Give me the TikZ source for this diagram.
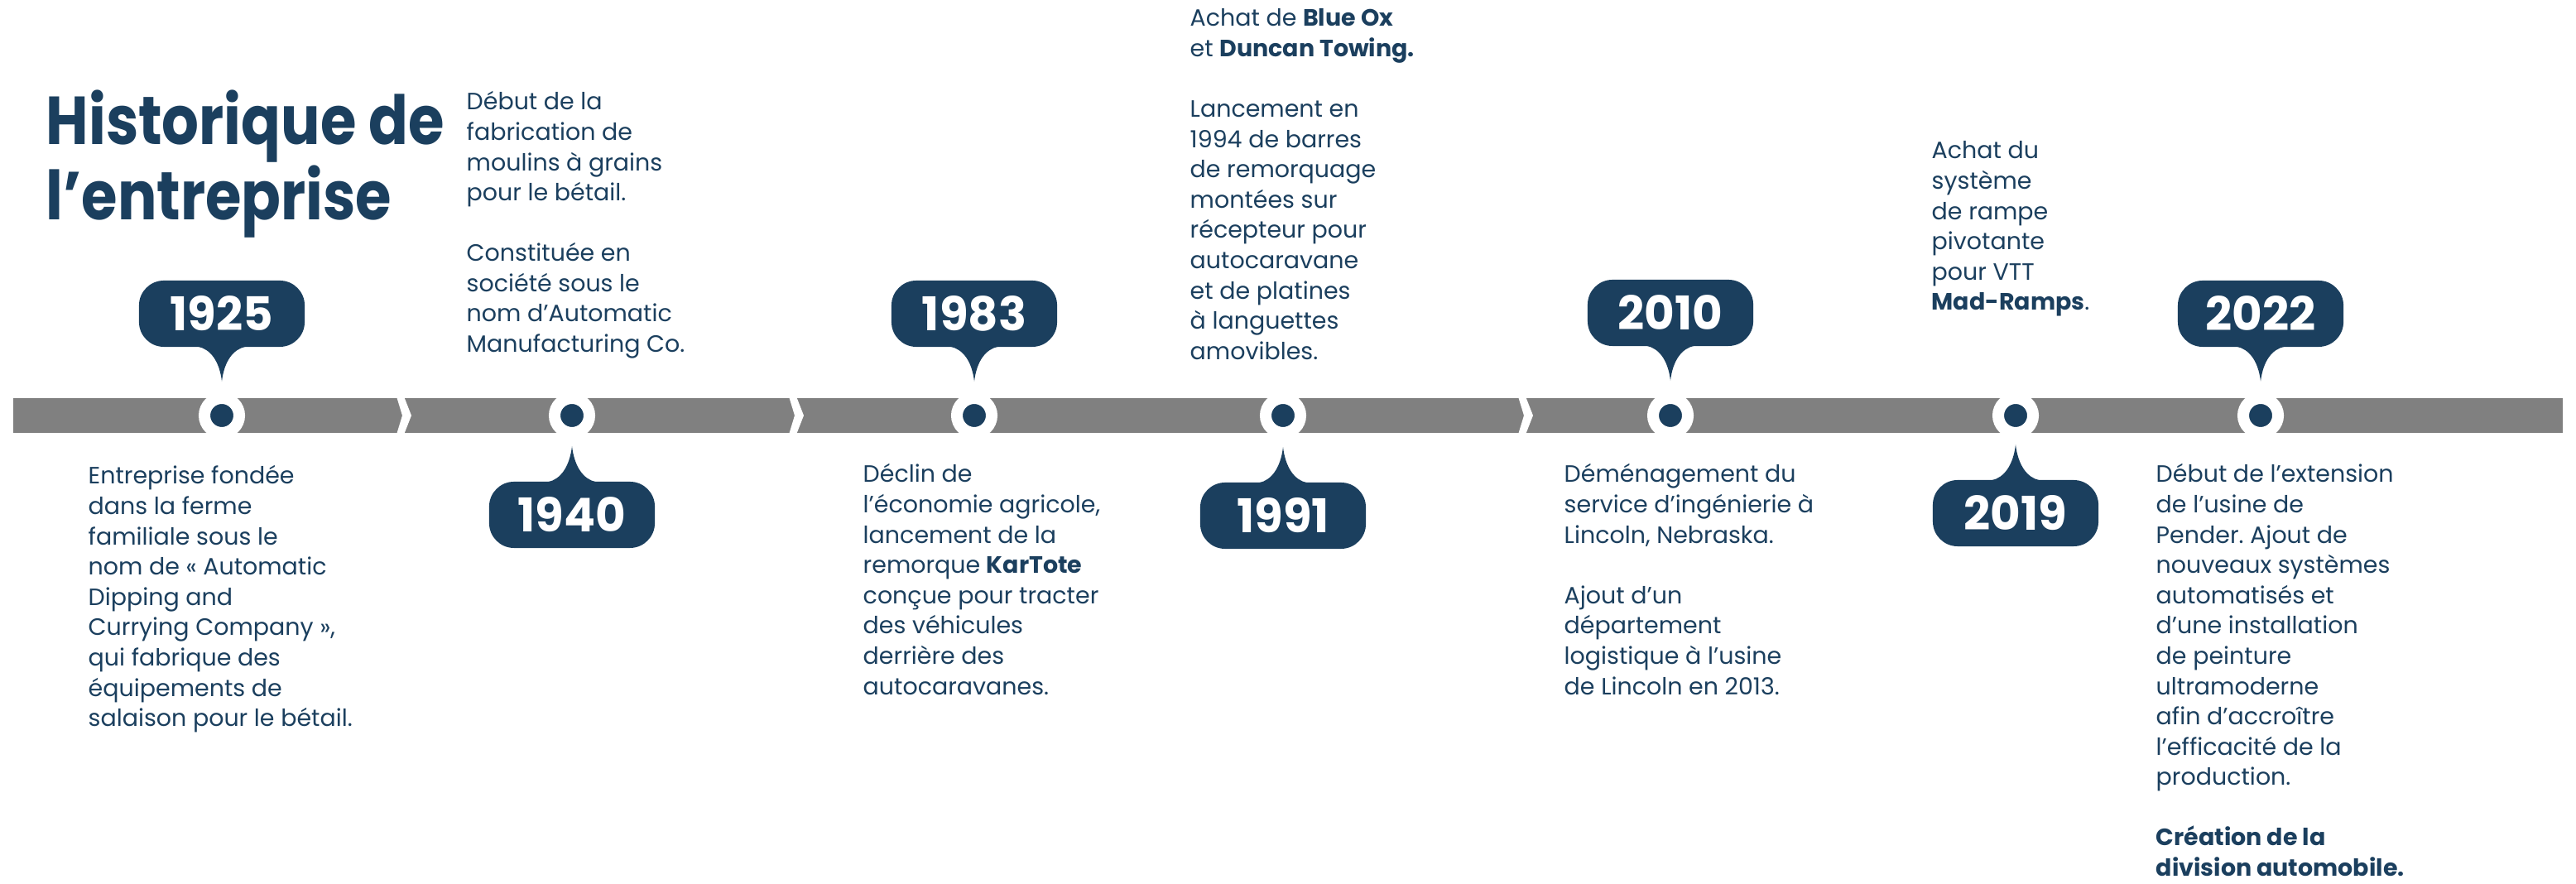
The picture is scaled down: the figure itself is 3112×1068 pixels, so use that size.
\documentclass[tikz,border=0pt]{standalone}
\usepackage{fontspec}
\setmainfont{Poppins}
\newfontfamily\titlefont{Poppins}[FakeStretch=0.86]
\usepackage{tikz}
\usepackage{xcolor}
\definecolor{navy}{HTML}{1B3F5E}
\definecolor{bargray}{HTML}{808080}
\frenchspacing
\tikzstyle{year} = [rectangle, rounded corners=0.3cm, minimum width=2cm, minimum height=0.8cm, inner sep=0pt, fill=navy, text=white, font=\fontsize{16pt}{16pt}\selectfont\bfseries]
\tikzstyle{body} = [anchor=base west, inner sep=0pt, text=navy, font=\fontsize{8.1pt}{10.4pt}\selectfont]
\tikzstyle{dot} = [circle, fill=navy, draw=white, line width=0.14cm, minimum size=0.42cm, inner sep=0pt]
\tikzstyle{title} = [anchor=base west, inner sep=0pt, text=navy, font=\fontsize{23.3pt}{24.2pt}\titlefont\bfseries]
% lines of a block, baseline on the first line
\newcommand{\block}[1]{\begin{tabular}[t]{@{}l@{}}#1\end{tabular}}
% tip under a bubble (points down) / over a bubble (points up)
\newcommand{\tipdown}[1]{\fill[navy] ([xshift=-0.29cm,yshift=0.01cm]#1.south) .. controls +(15,3) and +(-3,-25) .. ([yshift=-0.41cm]#1.south) .. controls +(3,-25) and +(-15,3) .. ([xshift=0.29cm,yshift=0.01cm]#1.south) -- cycle;}
\newcommand{\tipup}[1]{\fill[navy] ([xshift=-0.29cm,yshift=-0.01cm]#1.north) .. controls +(15,-3) and +(-3,25) .. ([yshift=0.42cm]#1.north) .. controls +(3,25) and +(-15,-3) .. ([xshift=0.29cm,yshift=-0.01cm]#1.north) -- cycle;}

\begin{document}
\begin{tikzpicture}[x=0.01cm,y=-0.01cm]
    \useasboundingbox[fill=white] (0,0) rectangle (3112,1068);

    \node[title] (title) at (55,175) {\block{Historique de\\[-0.2pt]l’entreprise}};

    % the bar and its chevrons
    \fill[bargray] (16,481) rectangle (3096,523);
    \fill[white] (479,479) -- (488,479) -- (497,502) -- (488,525) -- (479,525) -- (486,502) -- cycle;
    \fill[white] (953,479) -- (962,479) -- (971,502) -- (962,525) -- (953,525) -- (960,502) -- cycle;
    \fill[white] (1834,479) -- (1843,479) -- (1852,502) -- (1843,525) -- (1834,525) -- (1841,502) -- cycle;

    \node[dot] (d1925) at (268,502) {};
    \node[dot] (d1940) at (691,502) {};
    \node[dot] (d1983) at (1177,502) {};
    \node[dot] (d1991) at (1550,502) {};
    \node[dot] (d2010) at (2018,502) {};
    \node[dot] (d2019) at (2435,502) {};
    \node[dot] (d2022) at (2731,502) {};

    % years above the bar
    \node[year] (y1925) at (268,379) {1925};
    \node[year] (y1983) at (1177,379) {1983};
    \node[year] (y2010) at (2018,378) {2010};
    \node[year] (y2022) at (2731,379) {2022};
    \tipdown{y1925}
    \tipdown{y1983}
    \tipdown{y2010}
    \tipdown{y2022}

    % years below the bar
    \node[year] (y1940) at (691,622) {1940};
    \node[year] (y1991) at (1550,623) {1991};
    \node[year] (y2019) at (2435,620) {2019};
    \tipup{y1940}
    \tipup{y1991}
    \tipup{y2019}

    \node[body] (t1925) at (106,585) {\block{Entreprise fondée\\dans la ferme\\familiale sous le\\nom de « Automatic\\Dipping and\\Currying Company »,\\qui fabrique des\\équipements de\\salaison pour le bétail.}};
    \node[body] (t1940) at (563,133) {\block{Début de la\\fabrication de\\moulins à grains\\pour le bétail.\\[10.4pt]Constituée en\\société sous le\\nom d’Automatic\\Manufacturing Co.}};
    \node[body] (t1983) at (1042,583) {\block{Déclin de\\l’économie agricole,\\lancement de la\\remorque \textbf{KarTote}\\conçue pour tracter\\des véhicules\\derrière des\\autocaravanes.}};
    \node[body] (t1991) at (1437,32) {\block{Achat de \textbf{Blue Ox}\\et \textbf{Duncan Towing.}\\[10.4pt]Lancement en\\1994 de barres\\de remorquage\\montées sur\\récepteur pour\\autocaravane\\et de platines\\à languettes\\amovibles.}};
    \node[body] (t2010) at (1889,583) {\block{Déménagement du\\service d’ingénierie à\\Lincoln, Nebraska.\\[10.4pt]Ajout d’un\\département\\logistique à l’usine\\de Lincoln en 2013.}};
    \node[body] (t2019) at (2333,192) {\block{Achat du\\système\\de rampe\\pivotante\\pour VTT\\\textbf{Mad-Ramps}.}};
    \node[body] (t2022) at (2604,583) {\block{Début de l’extension\\de l’usine de\\Pender. Ajout de\\nouveaux systèmes\\automatisés et\\d’une installation\\de peinture\\ultramoderne\\afin d’accroître\\l’efficacité de la\\production.\\[10.4pt]\textbf{Création de la}\\\textbf{division automobile.}}};
\end{tikzpicture}
\end{document}
